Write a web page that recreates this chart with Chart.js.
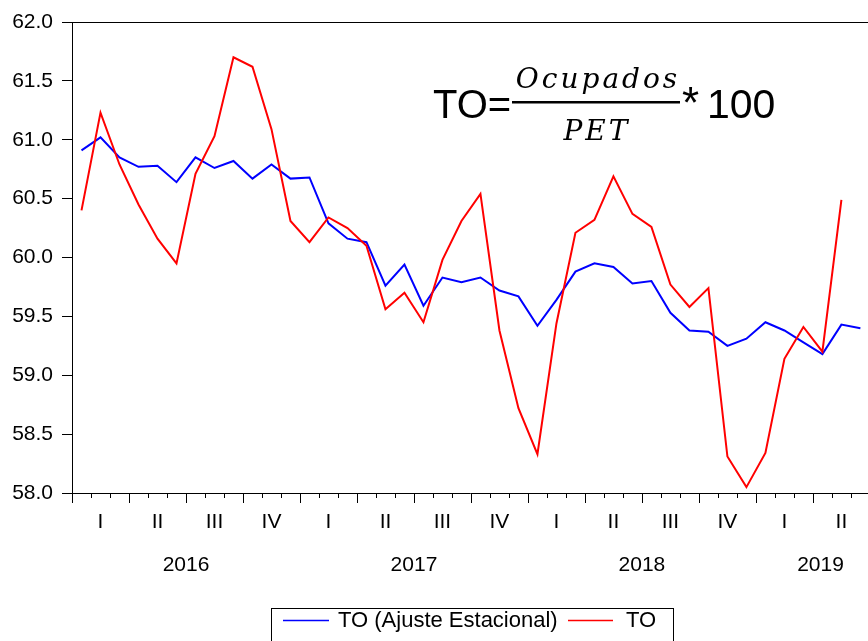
<!DOCTYPE html>
<html>
<head>
<meta charset="utf-8">
<script src="https://cdn.jsdelivr.net/npm/chart.js@4.4.1/dist/chart.umd.min.js"></script>
<style>
  html, body { margin: 0; padding: 0; background: #fff; }
  #wrap { position: relative; width: 868px; height: 641px; overflow: hidden; }
</style>
</head>
<body>
<div id="wrap">
  <canvas id="toChart" width="868" height="641"></canvas>
</div>
<script>
// Tasa de ocupación mensual, 2016M01 - 2019M06
const months = [
  '2016M01','2016M02','2016M03','2016M04','2016M05','2016M06','2016M07','2016M08','2016M09','2016M10','2016M11','2016M12',
  '2017M01','2017M02','2017M03','2017M04','2017M05','2017M06','2017M07','2017M08','2017M09','2017M10','2017M11','2017M12',
  '2018M01','2018M02','2018M03','2018M04','2018M05','2018M06','2018M07','2018M08','2018M09','2018M10','2018M11','2018M12',
  '2019M01','2019M02','2019M03','2019M04','2019M05','2019M06'
];

const toAjuste = [
  60.91, 61.02, 60.85, 60.77, 60.78, 60.64, 60.85, 60.76, 60.82, 60.67, 60.79, 60.67,
  60.68, 60.29, 60.16, 60.13, 59.76, 59.94, 59.59, 59.83, 59.79, 59.83, 59.72, 59.67,
  59.42, 59.64, 59.88, 59.95, 59.92, 59.78, 59.80, 59.53, 59.38, 59.37, 59.25, 59.31,
  59.45, 59.38, 59.28, 59.18, 59.43, 59.40
];

const toOriginal = [
  60.40, 61.23, 60.79, 60.45, 60.16, 59.95, 60.71, 61.03, 61.70, 61.62, 61.09, 60.31,
  60.13, 60.34, 60.25, 60.10, 59.56, 59.70, 59.45, 59.98, 60.31, 60.54, 59.38, 58.72,
  58.33, 59.44, 60.21, 60.32, 60.69, 60.37, 60.26, 59.77, 59.58, 59.74, 58.31, 58.05,
  58.34, 59.14, 59.41, 59.20, 60.49
];

const quarterNames = ['I', 'II', 'III', 'IV'];
const years = ['2016', '2017', '2018', '2019'];
const quartersPerYear = [4, 4, 4, 2];
const yearLabelAt = [5.5, 17.5, 29.5, 38.9];

const FONT = '"Liberation Sans", Arial, sans-serif';

function toPoints(values) {
  return values.map((v, i) => ({ x: i, y: v }));
}

// ejes de trimestres/años, marco superior, fórmula y leyenda
const decorPlugin = {
  id: 'decor',
  afterDraw(chart) {
    const { ctx, chartArea: a, scales: { x } } = chart;
    ctx.save();
    ctx.strokeStyle = '#000';
    ctx.fillStyle = '#000';
    ctx.lineWidth = 1;

    ctx.beginPath();
    ctx.moveTo(a.left, a.top + 0.5);
    ctx.lineTo(a.right, a.top + 0.5);
    ctx.stroke();

    for (let k = 0; k <= months.length; k++) {
      const px = Math.round(x.getPixelForValue(k - 0.5)) + 0.5;
      if (px > a.right) break;
      const len = k % 3 === 0 ? 10 : 5;
      ctx.beginPath();
      ctx.moveTo(px, a.bottom);
      ctx.lineTo(px, a.bottom + len);
      ctx.stroke();
    }

    ctx.font = '21px ' + FONT;
    ctx.textAlign = 'center';
    ctx.textBaseline = 'middle';
    let m = 0;
    years.forEach((yr, i) => {
      for (let q = 0; q < quartersPerYear[i]; q++) {
        ctx.fillText(quarterNames[q], x.getPixelForValue(m + q * 3 + 1), a.bottom + 29);
      }
      ctx.fillText(yr, x.getPixelForValue(yearLabelAt[i]), a.bottom + 72);
      m += quartersPerYear[i] * 3;
    });

    // fórmula
    ctx.textAlign = 'left';
    ctx.textBaseline = 'alphabetic';
    ctx.font = '40px ' + FONT;
    ctx.fillText('TO=', 433, 118);
    ctx.fillRect(512, 101, 168, 2.5);
    ctx.font = '44px ' + FONT;
    ctx.fillText('*', 682, 118);
    ctx.font = '41px ' + FONT;
    ctx.fillText('100', 707, 118);
    ctx.textAlign = 'center';
    ctx.font = 'italic 28px "DejaVu Serif", serif';
    ctx.letterSpacing = '3px';
    ctx.fillText('Ocupados', 598, 88);
    ctx.fillText('PET', 597, 140);
    ctx.letterSpacing = '0px';

    // leyenda
    ctx.strokeRect(271.5, 608.5, 402, 60);
    ctx.lineWidth = 1.5;
    ctx.strokeStyle = '#0000ff';
    ctx.beginPath(); ctx.moveTo(283, 620.5); ctx.lineTo(329, 620.5); ctx.stroke();
    ctx.strokeStyle = '#ff0000';
    ctx.beginPath(); ctx.moveTo(568, 620.5); ctx.lineTo(613, 620.5); ctx.stroke();
    ctx.font = '22px ' + FONT;
    ctx.textAlign = 'left';
    ctx.textBaseline = 'middle';
    ctx.fillText('TO (Ajuste Estacional)', 338, 621);
    ctx.fillText('TO', 626, 621);
    ctx.restore();
  }
};

new Chart(document.getElementById('toChart'), {
  type: 'line',
  data: {
    datasets: [
      {
        label: 'TO (Ajuste Estacional)',
        data: toPoints(toAjuste),
        borderColor: '#0000ff',
        borderWidth: 2,
        pointRadius: 0,
        tension: 0,
        order: 1
      },
      {
        label: 'TO',
        data: toPoints(toOriginal),
        borderColor: '#ff0000',
        borderWidth: 2,
        pointRadius: 0,
        tension: 0,
        order: 0
      }
    ]
  },
  options: {
    responsive: false,
    animation: false,
    layout: { padding: { top: 22, right: 0, bottom: 0, left: 0 } },
    plugins: {
      legend: { display: false },
      tooltip: { enabled: false }
    },
    scales: {
      x: {
        type: 'linear',
        min: -0.5,
        max: 41.4,
        ticks: { display: false },
        grid: { display: false },
        border: { display: true, color: '#000', width: 1 },
        afterFit(scale) { scale.height = 148; }
      },
      y: {
        min: 58,
        max: 62,
        ticks: {
          stepSize: 0.5,
          padding: 9,
          color: '#000',
          font: { family: FONT, size: 21 },
          callback: v => v.toFixed(1)
        },
        grid: { drawOnChartArea: false, drawTicks: true, tickLength: 10, color: '#000' },
        border: { display: true, color: '#000', width: 1 },
        afterFit(scale) { scale.width = 72; }
      }
    }
  },
  plugins: [decorPlugin]
});
</script>
</body>
</html>
